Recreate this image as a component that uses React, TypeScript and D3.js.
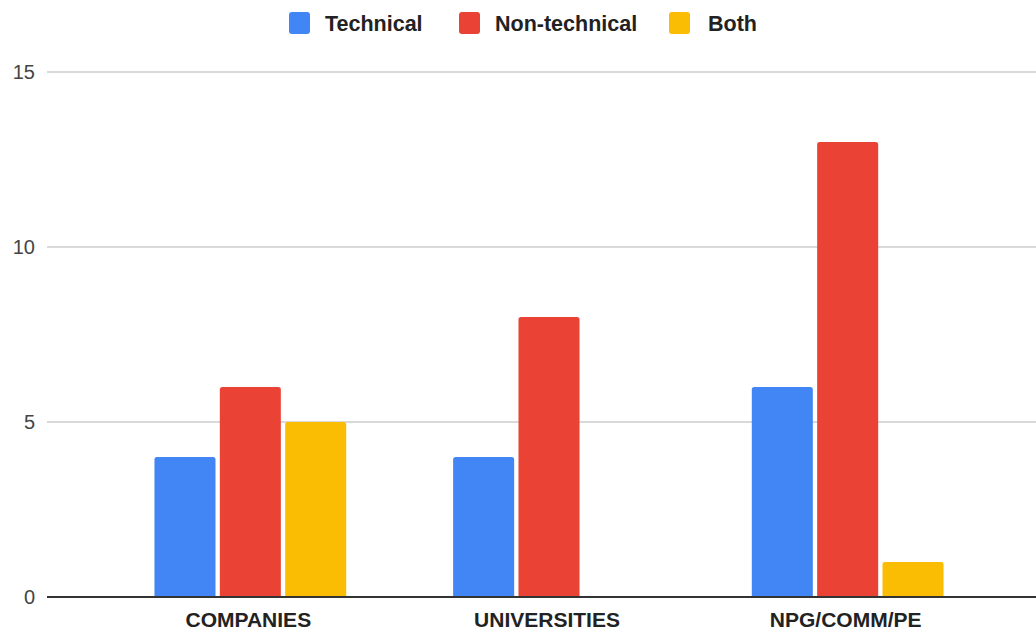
import React, { useEffect, useRef } from 'react';
import * as d3 from 'd3';

const categories: string[] = ['COMPANIES', 'UNIVERSITIES', 'NPG/COMM/PE'];
const seriesNames: string[] = ['Technical', 'Non-technical', 'Both'];
const technical: number[] = [4, 4, 6];
const nonTechnical: number[] = [6, 8, 13];
const both: number[] = [5, 0, 1];
const yTicks: number[] = [0, 5, 10, 15];
const colors: string[] = ['#4285F4', '#EA4335', '#FBBC04'];

const App: React.FC = () => {
  const containerRef = useRef<HTMLDivElement | null>(null);

  useEffect(() => {
    document.body.style.margin = '0';
    if (!containerRef.current) return;
    containerRef.current.innerHTML = '';

    const width = 1036;
    const height = 633;
    const font = '"Liberation Sans", Arial, sans-serif';
    const values: number[][] = [technical, nonTechnical, both];

    // Scales
    const x0 = d3
      .scaleBand<string>()
      .domain(categories)
      .range([101, 997])
      .paddingInner(0.358)
      .paddingOuter(0.179);
    const x1 = d3
      .scaleBand<string>()
      .domain(seriesNames)
      .range([0, x0.bandwidth()])
      .paddingInner(0.066);
    const y = d3.scaleLinear().domain([0, 15]).range([597, 72]);

    const svg = d3
      .select(containerRef.current)
      .append('svg')
      .attr('width', width)
      .attr('height', height)
      .style('display', 'block')
      .style('background', '#fff');

    // Gridlines
    svg
      .append('g')
      .selectAll('line')
      .data(yTicks.filter((t) => t !== 0))
      .join('line')
      .attr('x1', 47)
      .attr('x2', width)
      .attr('y1', (d) => y(d))
      .attr('y2', (d) => y(d))
      .attr('stroke', '#cccccc')
      .attr('stroke-width', 1.3);

    // Y tick labels
    svg
      .append('g')
      .selectAll('text')
      .data(yTicks)
      .join('text')
      .attr('x', 35)
      .attr('y', (d) => y(d))
      .attr('dy', '0.35em')
      .attr('text-anchor', 'end')
      .attr('font-family', font)
      .attr('font-size', 20)
      .attr('fill', '#444')
      .text((d) => d);

    // Bars with rounded top corners
    const r = 2.5;
    const barPath = (bx: number, by: number, bw: number, bh: number) => {
      if (bh <= 0) return '';
      const rr = Math.min(r, bh);
      return `M${bx},${by + bh}V${by + rr}Q${bx},${by} ${bx + rr},${by}H${bx + bw - rr}Q${bx + bw},${by} ${bx + bw},${by + rr}V${by + bh}Z`;
    };

    const groups = svg
      .append('g')
      .selectAll('g')
      .data(categories)
      .join('g')
      .attr('transform', (d) => `translate(${x0(d)},0)`);

    groups
      .selectAll('path')
      .data((_, i) => seriesNames.map((s, j) => ({ s, j, v: values[j][i] })))
      .join('path')
      .attr('fill', (d) => colors[d.j])
      .attr('d', (d) => barPath(x1(d.s) as number, y(d.v), x1.bandwidth(), y(0) - y(d.v)));

    // Baseline
    svg
      .append('line')
      .attr('x1', 47)
      .attr('x2', width)
      .attr('y1', y(0))
      .attr('y2', y(0))
      .attr('stroke', '#333')
      .attr('stroke-width', 2);

    // Category labels
    svg
      .append('g')
      .selectAll('text')
      .data(categories)
      .join('text')
      .attr('x', (d) => (x0(d) as number) + x0.bandwidth() / 2 - 2)
      .attr('y', 627)
      .attr('text-anchor', 'middle')
      .attr('font-family', font)
      .attr('font-size', 21)
      .attr('font-weight', 'bold')
      .attr('fill', '#222')
      .text((d) => d);

    // Legend
    const legendX = [289, 459, 669];
    const legend = svg
      .append('g')
      .selectAll('g')
      .data(seriesNames)
      .join('g')
      .attr('transform', (_, i) => `translate(${legendX[i]},12)`);
    legend
      .append('rect')
      .attr('width', 21)
      .attr('height', 22)
      .attr('rx', 3)
      .attr('fill', (_, i) => colors[i]);
    legend
      .append('text')
      .attr('x', (_, i) => (i === 2 ? 39 : 36))
      .attr('y', 11)
      .attr('dy', '0.36em')
      .attr('font-family', font)
      .attr('font-size', 21.5)
      .attr('font-weight', 'bold')
      .attr('fill', '#222')
      .text((d) => d);
  }, []);

  return <div ref={containerRef} />;
};

export default App;
